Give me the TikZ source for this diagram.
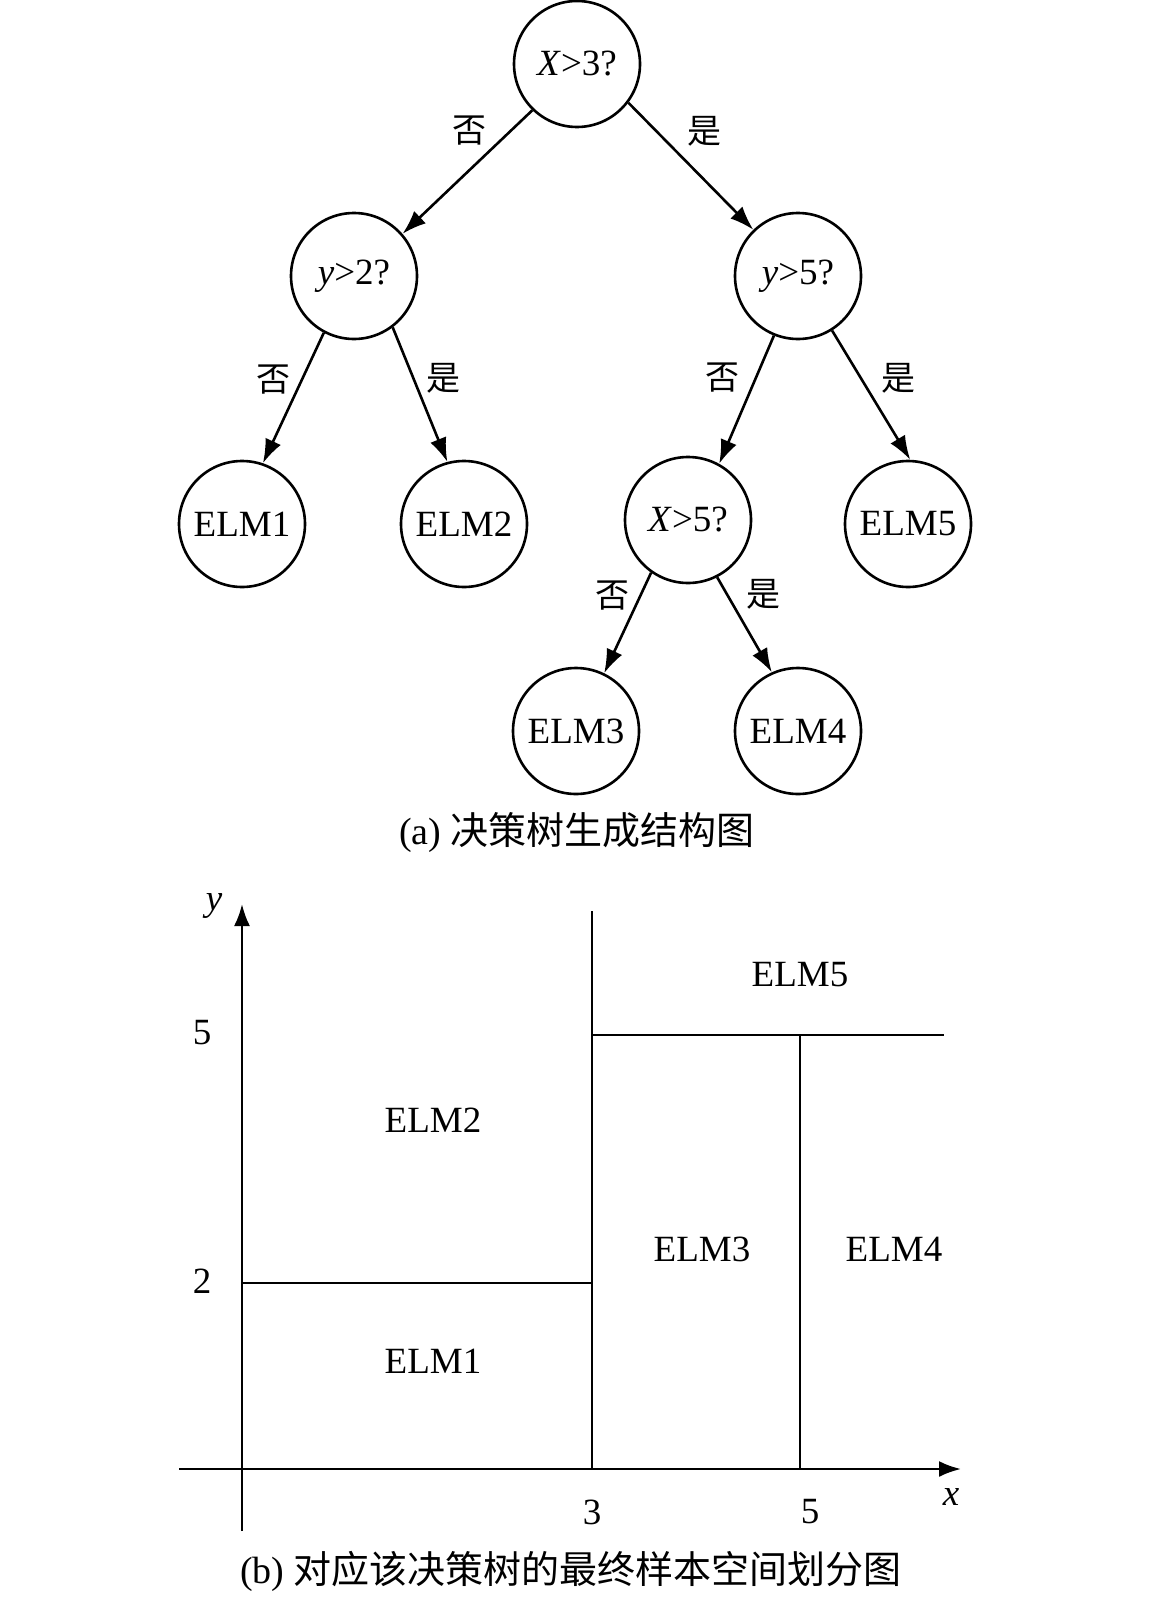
\documentclass[tikz,border=0pt]{standalone}
\usepackage{fontspec}
\setmainfont{Liberation Serif}
\newfontfamily\cjk{Noto Sans CJK SC}
\usetikzlibrary{arrows.meta}

\begin{document}
\begin{tikzpicture}[x=0.5pt, y=-0.5pt, line width=1.3pt,
	knoten/.style={draw, circle, minimum size=63pt, inner sep=0pt,
		font=\fontsize{18.5}{20}\selectfont},
	zweig/.style={-{Latex[length=12pt, width=8.5pt]}},
	marke/.style={font=\fontsize{17}{20}\selectfont\cjk},
	feld/.style={font=\fontsize{18.5}{20}\selectfont},
	titel/.style={font=\fontsize{19}{21}\selectfont}]
\useasboundingbox (0,0) rectangle (1152,1600);
%Baum zeichnen
\node [knoten] (r)  at (577,64)  {\textit{X}>3?};
\node [knoten] (y2) at (354,276) {\textit{y}>2?};
\node [knoten] (y5) at (798,276) {\textit{y}>5?};
\node [knoten] (e1) at (242,524) {ELM1};
\node [knoten] (e2) at (464,524) {ELM2};
\node [knoten] (x5) at (688,520) {\textit{X}>5?};
\node [knoten] (e5) at (908,524) {ELM5};
\node [knoten] (e3) at (576,731) {ELM3};
\node [knoten] (e4) at (798,731) {ELM4};
% Kanten
\draw [zweig] (r.226)--(y2.41);
\draw [zweig] (r.-37)--(y5.134);
\draw [zweig] (y2.242)--(e1.71);
\draw [zweig] (y2.-53)--(e2.105);
\draw [zweig] (y5.248)--(x5.61);
\draw [zweig] (y5.-58)--(e5.88);
\draw [zweig] (x5.235)--(e3.64);
\draw [zweig] (x5.-63)--(e4.114);
% Kanten beschriften
\node [marke] (n1) at (469,131) {否};
\node [marke] (j1) at (704,131) {是};
\node [marke] (n2) at (273,380) {否};
\node [marke] (j2) at (443,378) {是};
\node [marke] (n3) at (722,378) {否};
\node [marke] (j3) at (898,378) {是};
\node [marke] (n4) at (612,596) {否};
\node [marke] (j4) at (763,594) {是};
\node [titel] (ta) at (577,832) {(a) {\cjk 决策树生成结构图}};
% Achsen zeichnen
\draw [-{Latex[length=11pt, width=8pt]}] (242,1531) -- (242,904);
\draw [-{Latex[length=11pt, width=8pt]}] (179,1469) -- (961,1469);
\node [feld] (ly) at (214,906) {\textit{y}};
\node [feld] (lx) at (951,1497) {\textit{x}};
% Achsen beschriften
\foreach \w/\yy in {5/1033, 2/1281}
\node [feld] (t\w y) at (202,\yy) {\w};
\foreach \w/\xx in {3/592, 5/810}
\node [feld] (t\w x) at (\xx,1512) {\w};
% Raumaufteilung
\draw (592,911) -- (592,1469);
\draw (592,1035) -- (944,1035);
\draw (800,1035) -- (800,1469);
\draw (242,1283) -- (592,1283);
\node [feld] (f5) at (800,975)  {ELM5};
\node [feld] (f2) at (433,1120) {ELM2};
\node [feld] (f3) at (702,1249) {ELM3};
\node [feld] (f4) at (894,1249) {ELM4};
\node [feld] (f1) at (433,1361) {ELM1};
\node [titel] (tb) at (571,1571) {(b) {\cjk 对应该决策树的最终样本空间划分图}};
\end{tikzpicture}
\end{document}
